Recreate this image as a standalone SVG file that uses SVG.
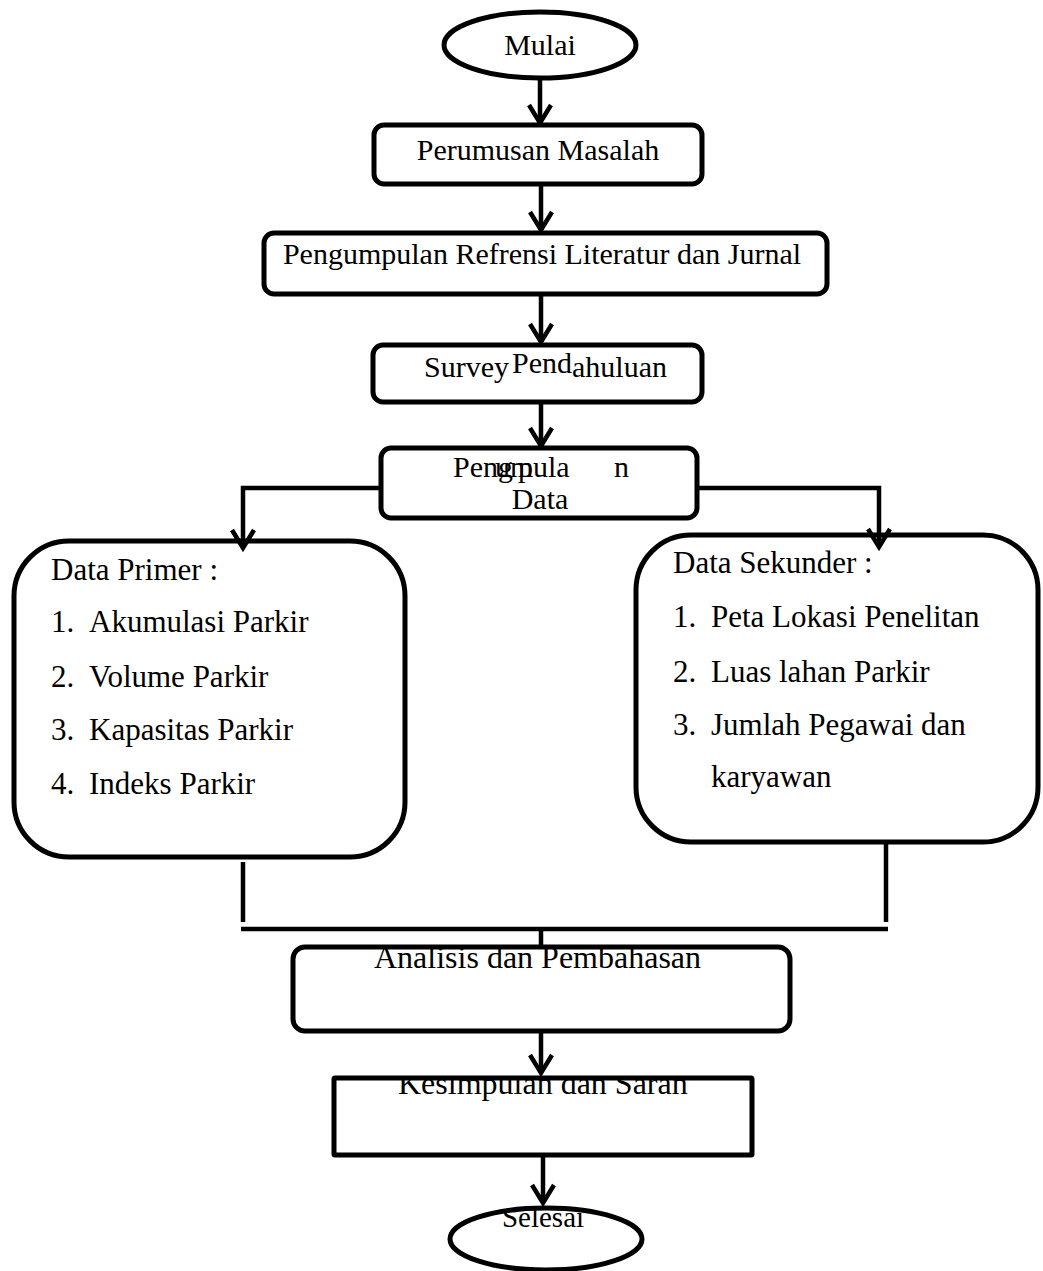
<svg xmlns="http://www.w3.org/2000/svg" width="1043" height="1271" viewBox="0 0 1043 1271">
<style>
  .box { fill: #fff; stroke: #000; stroke-width: 5; }
  .t { font-family: "Liberation Serif", "Times New Roman", serif; font-size: 30px; fill: #000; }
  .tl { font-family: "Liberation Serif", "Times New Roman", serif; font-size: 31px; fill: #000; }
  .c { text-anchor: middle; }
  .conn { fill: none; stroke: #000; stroke-width: 4.5; }
</style>
<defs>
  <marker id="arr" viewBox="-22 -15 26 30" refX="0" refY="0" markerWidth="26" markerHeight="30" markerUnits="userSpaceOnUse" orient="auto" overflow="visible">
    <path d="M-18,-11 L0,0 L-18,11" fill="none" stroke="#000" stroke-width="4.5"/>
  </marker>
  <clipPath id="clipKes"><rect x="330" y="1078" width="430" height="80"/></clipPath>
</defs>
<rect width="1043" height="1271" fill="#fff"/>

<g id="mulai">
  <ellipse class="box" cx="540" cy="45" rx="96" ry="33"/>
  <text class="t c" x="540" y="55">Mulai</text>
</g>
<g id="perumusan">
  <rect class="box" x="374" y="125" width="328" height="59" rx="10"/>
  <text class="t c" x="538" y="160">Perumusan Masalah</text>
</g>
<g id="referensi">
  <rect class="box" x="264" y="233" width="563" height="61" rx="10"/>
  <text class="t c" x="542" y="264">Pengumpulan Refrensi Literatur dan Jurnal</text>
</g>
<g id="survey">
  <rect class="box" x="373" y="345" width="329" height="57" rx="10"/>
  <text class="t" x="424" y="377">Survey</text>
  <text class="t" x="512" y="373">Pend<tspan y="377">ahuluan</tspan></text>
</g>
<g id="pengumpulan-data">
  <rect class="box" x="381" y="448" width="316" height="70" rx="10"/>
  <text class="t" x="453" y="477">Peng</text>
  <text class="t" x="495" y="477">um</text>
  <text class="t" x="518" y="477">pula</text>
  <text class="t" x="614" y="477">n</text>
  <text class="t c" x="540" y="509">Data</text>
</g>
<g id="data-primer">
  <rect class="box" x="14" y="541" width="391" height="316" rx="55"/>
  <text class="tl" x="51" y="580">Data Primer :</text>
  <text class="tl" x="51" y="632">1.</text><text class="tl" x="89" y="632">Akumulasi Parkir</text>
  <text class="tl" x="51" y="687">2.</text><text class="tl" x="89" y="687">Volume Parkir</text>
  <text class="tl" x="51" y="740">3.</text><text class="tl" x="89" y="740">Kapasitas Parkir</text>
  <text class="tl" x="51" y="794">4.</text><text class="tl" x="89" y="794">Indeks Parkir</text>
</g>
<g id="data-sekunder">
  <rect class="box" x="636" y="535" width="402" height="307" rx="55"/>
  <text class="tl" x="673" y="573">Data Sekunder :</text>
  <text class="tl" x="673" y="627">1.</text><text class="tl" x="711" y="627">Peta Lokasi Penelitan</text>
  <text class="tl" x="673" y="682">2.</text><text class="tl" x="711" y="682">Luas lahan Parkir</text>
  <text class="tl" x="673" y="735">3.</text><text class="tl" x="711" y="735">Jumlah Pegawai dan</text>
  <text class="tl" x="711" y="787">karyawan</text>
</g>
<g id="analisis">
  <rect class="box" x="293" y="947" width="497" height="84" rx="12"/>
  <text class="t" x="374" y="968" style="font-size:32px">Analisis  dan Pembahasan</text>
</g>
<g id="kesimpulan">
  <rect class="box" x="334" y="1078" width="418" height="77" rx="1"/>
  <text class="t" x="398" y="1094" style="font-size:32px" clip-path="url(#clipKes)">Kesimpulan dan Saran</text>
</g>
<g id="selesai">
  <ellipse class="box" cx="546" cy="1239" rx="96" ry="31"/>
  <text class="t c" x="543" y="1227" style="font-size:29px">Selesai</text>
</g>

<g id="connectors">
  <path class="conn" d="M540,80 V123" marker-end="url(#arr)"/>
  <path class="conn" d="M541,185 V230" marker-end="url(#arr)"/>
  <path class="conn" d="M541,295 V342" marker-end="url(#arr)"/>
  <path class="conn" d="M541,402 V446" marker-end="url(#arr)"/>
  <path class="conn" d="M381,488 H243 V548" marker-end="url(#arr)"/>
  <path class="conn" d="M697,488 H879 V547" marker-end="url(#arr)"/>
  <path class="conn" d="M243,862 V922"/>
  <path class="conn" d="M886,843 V922"/>
  <path class="conn" d="M241,929 H888"/>
  <path class="conn" d="M541,929 V947"/>
  <path class="conn" d="M541,1032 V1073" marker-end="url(#arr)"/>
  <path class="conn" d="M543,1156 V1203" marker-end="url(#arr)"/>
</g>
</svg>
